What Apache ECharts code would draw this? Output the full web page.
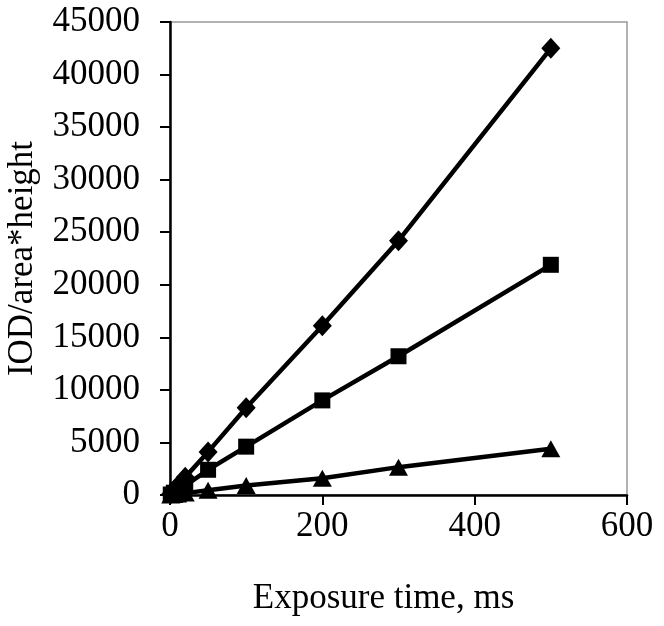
<!DOCTYPE html>
<html><head><meta charset="utf-8">
<script src="https://cdn.jsdelivr.net/npm/echarts@6/dist/echarts.min.js"></script>
<style>html,body{margin:0;padding:0;background:#fff}#c{width:664px;height:626px}</style>
</head><body><div id="c"></div>
<script>
const exposure = [1, 5, 10, 20, 50, 100, 200, 300, 500];
const diamondVals = [85, 420, 850, 1700, 4100, 8300, 16100, 24200, 42500];
const squareVals = [45, 220, 450, 900, 2400, 4600, 9000, 13200, 21900];
const triangleVals = [9, 45, 90, 180, 450, 900, 1600, 2650, 4400];
const xTicks = [0, 200, 400, 600];
const yTicks = [0, 5000, 10000, 15000, 20000, 25000, 30000, 35000, 40000, 45000];

const font = 'Liberation Serif, Times New Roman, serif';
function pairs(v){ return exposure.map((x,i)=>[x, v[i]]); }
function ser(v, sym, size){
  return {type:'line', data:pairs(v), symbol:sym, symbolSize:size, showSymbol:true,
    lineStyle:{color:'#000', width:4.5}, itemStyle:{color:'#000'}, z:3, animation:false};
}
const chart = echarts.init(document.getElementById('c'));
chart.setOption({
  animation:false,
  grid:{left:170, right:37, top:22, bottom:131, show:true, borderColor:'#999', borderWidth:1.5,
    containLabel:false, outerBoundsMode:'none'},
  xAxis:{type:'value', min:xTicks[0], max:xTicks[xTicks.length-1], interval:xTicks[1]-xTicks[0],
    name:'Exposure time, ms', nameLocation:'middle', nameGap:86,
    nameTextStyle:{fontFamily:font, fontSize:35, color:'#000', padding:[0,30,0,0]},
    axisLine:{show:true, onZero:false, lineStyle:{color:'#000', width:2.5}},
    axisTick:{show:true, length:10, lineStyle:{color:'#000', width:2}},
    axisLabel:{fontFamily:font, fontSize:35, color:'#000', margin:14, formatter:v=>String(v)},
    splitLine:{show:false}},
  yAxis:{type:'value', min:yTicks[0], max:yTicks[yTicks.length-1], interval:yTicks[1]-yTicks[0],
    name:'IOD/area*height', nameLocation:'middle', nameGap:130,
    nameTextStyle:{fontFamily:font, fontSize:35, color:'#000'},
    axisLine:{show:true, onZero:false, lineStyle:{color:'#000', width:2.5}},
    axisTick:{show:true, length:10, lineStyle:{color:'#000', width:2}},
    axisLabel:{fontFamily:font, fontSize:35, color:'#000', margin:30, formatter:v=>String(v)},
    splitLine:{show:false}},
  series:[
    ser(diamondVals, 'diamond', [19,21]),
    ser(squareVals, 'rect', 16),
    ser(triangleVals, 'triangle', [19,17])
  ]
});
</script></body></html>
